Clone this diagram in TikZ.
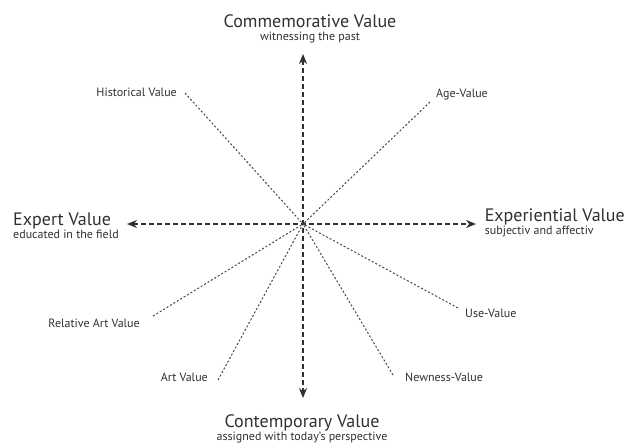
\documentclass[tikz,border=0pt]{standalone}
\usepackage{fontspec}
\setmainfont{PT Sans}
\usetikzlibrary{arrows.meta, positioning}
\definecolor{valueGray}{RGB}{48,48,48}
\definecolor{rayGray}{RGB}{70,70,70}

\begin{document}
\begin{tikzpicture}[
        x=1pt, y=-1pt,
        title/.style={inner sep=0pt, text=valueGray, font=\fontsize{18}{20}\selectfont},
        sub/.style={inner sep=0pt, text=valueGray, font=\fontsize{12}{14}\selectfont},
        minor/.style={inner sep=0pt, text=valueGray, font=\fontsize{12}{14}\selectfont},
        axis/.style={{Stealth[length=10pt,width=8pt]}-{Stealth[length=10pt,width=8pt]}, line width=1.3pt, dash pattern=on 4.5pt off 3.5pt, valueGray},
        ray/.style={line width=1pt, dash pattern=on 2pt off 2pt, rayGray}
    ]
        \useasboundingbox (0,0) rectangle (626,444);

        % Axes
        \coordinate (c) at (303,224);
        \coordinate (top) at (303,54);
        \coordinate (bottom) at (303,398);
        \coordinate (left) at (127,224);
        \coordinate (right) at (476,224);
        \draw[axis] (top) -- (bottom);
        \draw[axis] (left) -- (right);

        % Main values
        \node[title, anchor=base] (commem) at (310,28) {Commemorative Value};
        \node[sub, below=3pt of commem] (commemSub) {witnessing the past};

        \node[title, anchor=base] (contemp) at (302,427) {Contemporary Value};
        \node[sub, below=1pt of contemp] (contempSub) {assigned with today’s perspective};

        \node[title, anchor=base west] (expert) at (13,225) {Expert Value};
        \node[sub, below=1pt of expert.south west, anchor=north west] (expertSub) {educated in the field};

        \node[title, anchor=base east] (exper) at (625,221) {Experiential Value};
        \node[sub, below=1pt of exper.south west, anchor=north west] (experSub) {subjectiv and affectiv};

        % Secondary values
        \node[minor, anchor=base east] (hist) at (177,96) {Historical Value};
        \node[minor, anchor=base west] (age) at (436,97) {Age-Value};
        \node[minor, anchor=base east] (relart) at (140,327) {Relative Art Value};
        \node[minor, anchor=base east] (art) at (208,381) {Art Value};
        \node[minor, anchor=base west] (use) at (465,317) {Use-Value};
        \node[minor, anchor=base west] (newness) at (405,381) {Newness-Value};

        % Rays
        \coordinate (histEnd) at (185,93);
        \coordinate (ageEnd) at (430,102);
        \coordinate (relartEnd) at (153,316);
        \coordinate (artEnd) at (218,380);
        \coordinate (useEnd) at (458,308);
        \coordinate (newnessEnd) at (393,375);
        \foreach \e in {histEnd, ageEnd, relartEnd, artEnd, useEnd, newnessEnd}
            \draw[ray] (\e) -- (c);
    \end{tikzpicture}
\end{document}
